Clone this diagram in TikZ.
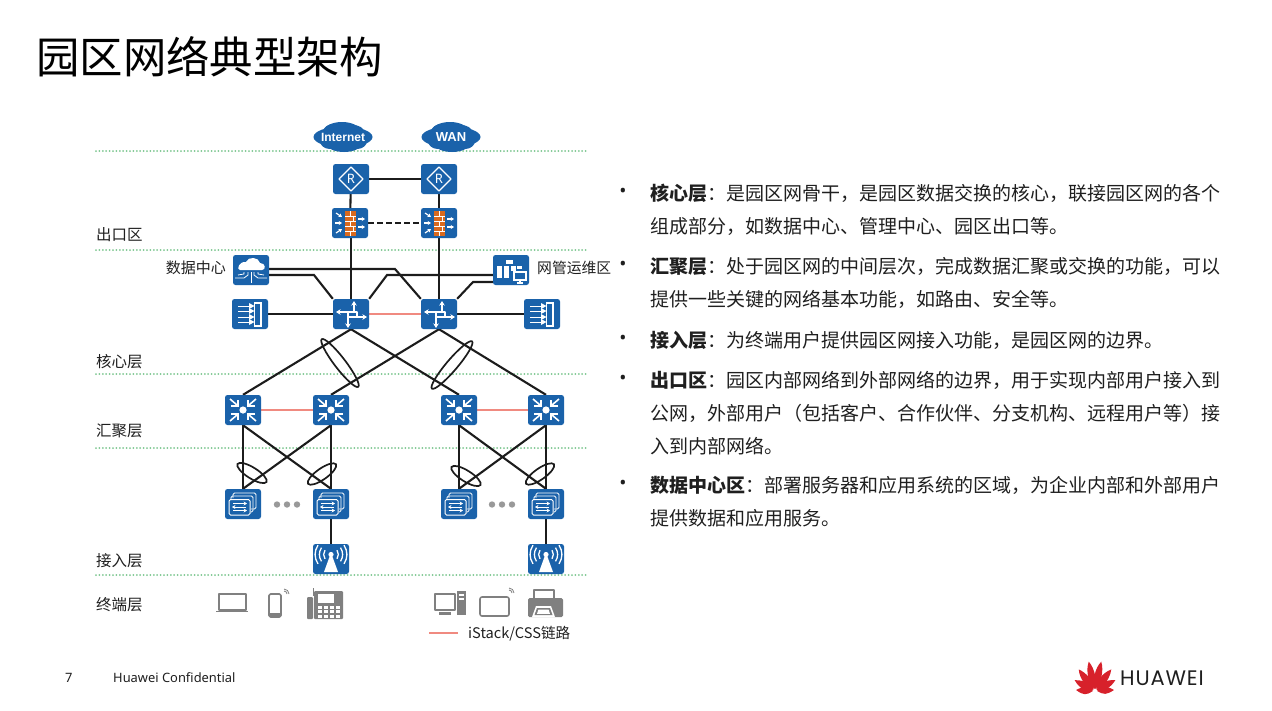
\documentclass[tikz,border=0pt]{standalone}
\usepackage{fontspec}
\setmainfont{Noto Sans CJK SC}
\newfontfamily\latinf{Noto Sans}
\newfontfamily\boldf{Liberation Sans}
\newfontfamily\logof[LetterSpace=4]{Poppins}
\usetikzlibrary{arrows.meta,shapes.geometric,backgrounds}
\definecolor{hblue}{HTML}{1A62AA}
\definecolor{dotg}{HTML}{7CC68F}
\definecolor{txt}{HTML}{1F1F1F}
\definecolor{lnk}{HTML}{1C1C1C}
\definecolor{pinkl}{HTML}{F08A80}
\definecolor{brick}{HTML}{D9691E}
\definecolor{term}{HTML}{808080}
\definecolor{logored}{HTML}{D7212B}
\tikzset{
  x=1pt,y=-1pt,
  dev/.style={fill=hblue,rounded corners=2.5,minimum width=36,minimum height=30,inner sep=0,draw=none},
  link/.style={draw=lnk,line width=2.1},
  stacklink/.style={draw=pinkl,line width=2.8},
  zone/.style={draw=dotg,line width=2,line cap=round,dash pattern=on 0pt off 3.4pt},
  lag/.style={ellipse,draw=lnk,line width=1.7,inner sep=0,fill=none},
  wl/.style={draw=white,line width=1.3,line cap=round,line join=round},
  wa/.style={draw=white,line width=1.5,-{Stealth[length=4.6,width=5.6]}},
  tl/.style={draw=term,line width=1.6,line join=round},
  cloudtext/.style={inner sep=0,text=white,font=\boldf\bfseries\fontsize{12}{12}\selectfont},
  lab/.style={anchor=west,inner sep=0,text=txt,font=\fontsize{15.5}{18}\selectfont},
  body/.style={anchor=west,inner sep=0,text=txt,font=\fontsize{19}{22}\selectfont},
  bul/.style={anchor=center,inner sep=0,text=txt,font=\latinf\fontsize{19}{22}\selectfont},
}
\newcommand\gCloud[1]{\begin{scope}[shift={(#1)}]
  \fill[hblue] (0,0) ellipse [x radius=29.5,y radius=10.5];
  \fill[hblue] (-1,-6) ellipse [x radius=18,y radius=9];
  \fill[hblue] (-9,-5) ellipse [x radius=11,y radius=8];
  \fill[hblue] (10,-5) ellipse [x radius=11,y radius=7];
  \fill[hblue] (1,6) ellipse [x radius=18,y radius=9];
  \fill[hblue] (-13,4) ellipse [x radius=10,y radius=8];
  \fill[hblue] (14,4) ellipse [x radius=10,y radius=8];
\end{scope}}
\newcommand\gRouter[1]{\begin{scope}[shift={(#1)}]
  \draw[wl] (0,-12)--(12,0)--(0,12)--(-12,0)--cycle;
  \node[text=white,inner sep=0,font=\latinf\fontsize{13}{13}\selectfont] (#1R) at (0,0) {R};
\end{scope}}
\newcommand\gFire[1]{\begin{scope}[shift={(#1)}]
  \fill[brick] (-5,-12) rectangle (6,13);
  \foreach \y in {-7,-2,3,8}{\draw[white,line width=.7] (-5,\y)--(6,\y);}
  \draw[white,line width=.5] (0,-12)--(0,-7) (3,-7)--(3,-2) (0,-2)--(0,3) (3,3)--(3,8) (0,8)--(0,13);
  \begin{scope}[wa/.append style={line width=1.2,-{Stealth[length=3.4,width=4.2]}}]
  \draw[wa] (-14,-10)--(-8,-6);
  \draw[wa] (-15,0)--(-8,0);
  \draw[wa] (-14,10)--(-8,6);
  \draw[wa] (8,-4)--(15,-4);
  \draw[wa] (8,4)--(15,4);
  \end{scope}
\end{scope}}
\newcommand\gCore[1]{\begin{scope}[shift={(#1)}]
  \draw[wa] (3,-1)--(3,-13);
  \draw[wa] (3,-2)--(-15,-2);
  \draw[wa] (-3,3)--(16,3);
  \draw[wa] (-3,-2)--(-3,14);
  \draw[wl] (3,-2)--(6,-2)--(6,3);
\end{scope}}
\newcommand\gAgg[1]{\begin{scope}[shift={(#1)}]
  \fill[white] (0,0) circle (3.6);
  \foreach \sx/\sy in {-1/-1,1/-1,-1/1,1/1}{
    \draw[white,line width=1.6] (\sx*13,\sy*11)--(\sx*6,\sy*5);
    \draw[white,line width=1.6,line join=miter] (\sx*12,\sy*4)--(\sx*5,\sy*4)--(\sx*5,\sy*10);
  }
\end{scope}}
\newcommand\gAcc[1]{\begin{scope}[shift={(#1)}]
  \draw[white,line width=.8,rounded corners=1.5] (-10,-6) -- (-10,-11) -- (13,-11) -- (13,5) -- (8,5);
  \draw[white,line width=.8,rounded corners=1.5] (-12,-4) -- (-12,-8) -- (10,-8) -- (10,8) -- (8,8);
  \draw[white,line width=1,rounded corners=1.5] (-14,-4.5) rectangle (7,11);
  \draw[white,line width=1,-{Stealth[length=3.4,width=4]}] (-10,-.5)--(4,-.5);
  \draw[white,line width=1,-{Stealth[length=3.4,width=4]}] (3,3)--(-11,3);
  \draw[white,line width=1,-{Stealth[length=3.4,width=4]}] (-10,6.5)--(4,6.5);
\end{scope}}
\newcommand\gAP[1]{\begin{scope}[shift={(#1)}]
  \fill[white] (-1.2,-3) -- (1.2,-3) -- (7,13) -- (-7,13) -- cycle;
  \fill[white] (0,-4.5) circle (2.6);
  \foreach \r in {6,9.5,13}{
    \draw[white,line width=1.3] (-\r,-4.5-\r*0.72) .. controls (-\r-\r*0.3,-4.5-\r*0.25) and (-\r-\r*0.3,-4.5+\r*0.25) .. (-\r,-4.5+\r*0.72);
    \draw[white,line width=1.3] (\r,-4.5-\r*0.72) .. controls (\r+\r*0.3,-4.5-\r*0.25) and (\r+\r*0.3,-4.5+\r*0.25) .. (\r,-4.5+\r*0.72);
  }
\end{scope}}
\newcommand\gSide[1]{\begin{scope}[shift={(#1)}]
  \draw[white,line width=1.5] (4.5,-11) rectangle (11,12);
  \foreach \a in {-8,-3,3,8}{
    \draw[white,line width=1] (-12,\a)--(0,\a);
    \fill[white] (-1,\a-3)--(4.5,\a)--(-1,\a+3)--cycle;
  }
\end{scope}}
\newcommand\gDC[1]{\begin{scope}[shift={(#1)}]
  \fill[white] (-11,0) -- (11,0) .. controls (15,0) and (15,-7) .. (9,-7) .. controls (8,-13) and (-3,-14) .. (-5,-8) .. controls (-12,-9) and (-15,0) .. (-11,0) -- cycle;
  \draw[white,line width=.8] (0,2)--(0,13);
  \draw[white,line width=.8] (-3,2)--(-3,5)--(-7,8)--(-16,8);
  \draw[white,line width=.8] (3,2)--(3,5)--(7,8)--(16,8);
  \draw[white,line width=.8] (-7,2)--(-7,4)--(-13,5);
  \draw[white,line width=.8] (7,2)--(7,4)--(13,5);
\end{scope}}
\newcommand\gNMS[1]{\begin{scope}[shift={(#1)}]
  \fill[white] (-14,-4) rectangle (-9,8);
  \fill[white] (-7,-4) rectangle (-2,8);
  \fill[white] (0,-4) rectangle (5,1);
  \fill[white] (-5,-10) rectangle (2,-6);
  \fill[white] (6,-4) rectangle (11,-1);
  \draw[white,line width=1.2,fill=hblue] (3,2) rectangle (15,10);
  \draw[white,line width=1.2] (9,10)--(9,13) (6,13)--(12,13);
\end{scope}}
\newcommand\petal[2]{\fill[logored,rotate around={#1:(1095,691)}] (1095,689) .. controls (1090,682) and (1090,#2+8) .. (1095,#2) .. controls (1099.5,#2+8) and (1099.5,682) .. (1095,689) -- cycle;}
\begin{document}
\begin{tikzpicture}
\useasboundingbox (0,0) rectangle (1272,710);
% title
\node[anchor=west,inner sep=0,text=black,font=\fontsize{43.4}{48}\selectfont] (title) at (36,56.5) {园区网络典型架构};
% clouds
\coordinate (ci) at (343,137);
\coordinate (cw) at (451,137);
\gCloud{ci}\gCloud{cw}
\node[cloudtext] (inet) at (ci) {Internet};
\node[cloudtext,font=\boldf\bfseries\fontsize{13}{13}\selectfont] (wan) at (cw) {WAN};
% devices
\node[dev] (r1) at (351,179) {};
\node[dev] (r2) at (439,179) {};
\node[dev] (f1) at (350,223) {};
\node[dev] (f2) at (439,223) {};
\node[dev] (dc) at (251,270) {};
\node[dev] (nms) at (511,270) {};
\node[dev] (c1) at (351,314) {};
\node[dev] (c2) at (439,314) {};
\node[dev] (s1) at (250,314) {};
\node[dev] (s2) at (542,314) {};
\node[dev] (a1) at (243,410) {};
\node[dev] (a2) at (331,410) {};
\node[dev] (a3) at (459,410) {};
\node[dev] (a4) at (546,410) {};
\node[dev] (e1) at (243,504) {};
\node[dev] (e2) at (331,504) {};
\node[dev] (e3) at (459,504) {};
\node[dev] (e4) at (546,504) {};
\node[dev] (p1) at (331,559) {};
\node[dev] (p2) at (546,559) {};
\gRouter{r1}\gRouter{r2}\gFire{f1}\gFire{f2}\gDC{dc}\gNMS{nms}
\gCore{c1}\gCore{c2}\gSide{s1}\gSide{s2}
\gAgg{a1}\gAgg{a2}\gAgg{a3}\gAgg{a4}
\gAcc{e1}\gAcc{e2}\gAcc{e3}\gAcc{e4}\gAP{p1}\gAP{p2}
% bend points
\coordinate (b1) at (395,269);
\coordinate (b2) at (314,275);
\coordinate (b3) at (387,275);
\coordinate (b4) at (473,282);
\coordinate (z1a) at (96,151); \coordinate (z1b) at (586,151);
\coordinate (z2a) at (96,250); \coordinate (z2b) at (586,250);
\coordinate (z3a) at (96,374); \coordinate (z3b) at (586,374);
\coordinate (z4a) at (96,448); \coordinate (z4b) at (586,448);
\coordinate (z5a) at (96,575); \coordinate (z5b) at (586,575);
\begin{scope}[on background layer]
\draw[zone] (z1a)--(z1b);
\draw[zone] (z2a)--(z2b);
\draw[zone] (z3a)--(z3b);
\draw[zone] (z4a)--(z4b);
\draw[zone] (z5a)--(z5b);
\draw[link] (r1)--(r2);
\draw[link] (r1)--(f1);
\draw[link] (r2)--(f2);
\draw[link,dash pattern=on 6pt off 3pt,line width=2.3] (f1)--(f2);
\draw[link] (f1.south -| c1)--(c1);
\draw[link] (f2)--(c2);
\draw[link] (dc.east |- b1)--(b1)--(c2.north west);
\draw[link] (dc.east |- b2)--(b2)--(c1.north west);
\draw[link] (nms.west |- b3)--(b3)--(c1.north east);
\draw[link] (nms.west |- b4)--(b4)--(c2.north east);
\draw[link] (s1)--(c1);
\draw[link] (c2)--(s2);
\draw[stacklink] (c1)--(c2);
\draw[link] (c1.south)--(a1.north);
\draw[link] (c1.south)--(a3.north);
\draw[link] (c2.south)--(a2.north);
\draw[link] (c2.south)--(a4.north);
\draw[stacklink] (a1)--(a2);
\draw[stacklink] (a3)--(a4);
\draw[link] (a1.south)--(e1.north);
\draw[link] (a1.south)--(e2.north);
\draw[link] (a2.south)--(e1.north);
\draw[link] (a2.south)--(e2.north);
\draw[link] (a3.south)--(e3.north);
\draw[link] (a3.south)--(e4.north);
\draw[link] (a4.south)--(e3.north);
\draw[link] (a4.south)--(e4.north);
\draw[link] (e2)--(p1);
\draw[link] (e4)--(p2);
\end{scope}
% lag ellipses
\node[lag,minimum width=60,minimum height=11,rotate=-52.5] (l1) at (340,363) {};
\node[lag,minimum width=62,minimum height=11,rotate=49.6] (l2) at (452,365) {};
\node[lag,minimum width=34,minimum height=11,rotate=-32] (l3) at (252,473) {};
\node[lag,minimum width=34,minimum height=11,rotate=35] (l4) at (322,474) {};
\node[lag,minimum width=34,minimum height=11,rotate=-32] (l5) at (466,476) {};
\node[lag,minimum width=34,minimum height=11,rotate=35] (l6) at (540,474) {};
% dots
\foreach \x in {277,287,297,492,502,512}{\fill[gray!80] (\x,504.5) circle (3.2);}
% left labels
\node[lab] (t1) at (96,234.5) {出口区};
\node[lab] (t2) at (96,361.5) {核心层};
\node[lab] (t3) at (96,430.5) {汇聚层};
\node[lab] (t4) at (96,560.5) {接入层};
\node[lab] (t5) at (96,604.5) {终端层};
\node[lab,anchor=east,font=\fontsize{15}{18}\selectfont] (t6) at (226,268) {数据中心};
\node[lab,font=\fontsize{14.8}{18}\selectfont] (t7) at (537,268) {网管运维区};
% terminals
\begin{scope}
\draw[tl] (219,594) rectangle (246,610);
\fill[term] (216,610.5) -- (248,610.5) -- (248,612) -- (216,612) -- cycle;
\draw[tl,rounded corners=1.5] (269,594) rectangle (281,617);
\fill[term] (269,613) rectangle (281,617);
\draw[term,line width=.8] (284,591) arc (-90:0:3) (284,589) arc (-90:0:5);
% IP phone
\fill[term,rounded corners=1] (307,597) rectangle (313,619);
\fill[term,rounded corners=1] (314,591) rectangle (343,619);
\draw[term,line width=1] (313,588)--(313,596);
\fill[white] (318,594) rectangle (334,603);
\fill[term] (336,594) rectangle (341,597);
\foreach \i in {0,1,2,3}{\foreach \j in {0,1,2}{\fill[white] (318+\i*6,606+\j*4.3) rectangle (322+\i*6,609+\j*4.3);}}
% PC
\draw[tl] (435,594) rectangle (455,610);
\fill[term] (439,612) rectangle (451,614.5);
\fill[term] (457,591) rectangle (466,615);
\fill[white] (459,594) rectangle (464,595.5);
\fill[white] (459,598) rectangle (464,599.5);
% tablet
\draw[tl,rounded corners=2] (480,597) rectangle (509,616);
\draw[term,line width=.8] (509,590) arc (-90:0:3) (509,588) arc (-90:0:5);
% printer
\draw[tl] (534,590) rectangle (554,600);
\fill[term,rounded corners=1.5] (528,598) rectangle (563,617);
\fill[white] (536,606) -- (551,606) -- (555,617) -- (532,617) -- cycle;
\fill[term] (537,608) -- (550,608) -- (552.5,615) -- (534.5,615) -- cycle;
\fill[white] (538.5,609.5) -- (548.5,609.5) -- (550,613.8) -- (537,613.8) -- cycle;
\end{scope}
% legend
\coordinate (lg1) at (429,633);
\coordinate (lg2) at (458,633);
\draw[stacklink] (lg1)--(lg2);
\node[lab,font=\fontsize{14.6}{18}\selectfont] (lgt) at (468,633.5) {iStack/CSS链路};
% bullets
\foreach \y/\n in {193/a,266/b,340/c,380/d,485/e}{\node[bul] (bu\n) at (623,\y) {•};}
\node[body] (x1) at (650,193) {\textbf{核心层}：是园区网骨干，是园区数据交换的核心，联接园区网的各个};
\node[body] (x2) at (650,226) {组成部分，如数据中心、管理中心、园区出口等。};
\node[body] (x3) at (650,266) {\textbf{汇聚层}：处于园区网的中间层次，完成数据汇聚或交换的功能，可以};
\node[body] (x4) at (650,299) {提供一些关键的网络基本功能，如路由、安全等。};
\node[body] (x5) at (650,340) {\textbf{接入层}：为终端用户提供园区网接入功能，是园区网的边界。};
\node[body] (x6) at (650,380) {\textbf{出口区}：园区内部网络到外部网络的边界，用于实现内部用户接入到};
\node[body] (x7) at (650,413) {公网，外部用户（包括客户、合作伙伴、分支机构、远程用户等）接};
\node[body] (x8) at (650,446) {入到内部网络。};
\node[body] (x9) at (650,485) {\textbf{数据中心区}：部署服务器和应用系统的区域，为企业内部和外部用户};
\node[body] (x10) at (650,518) {提供数据和应用服务。};
% footer
\node[lab,font=\latinf\fontsize{12.9}{14}\selectfont] (pg) at (65,678) {7};
\node[lab,font=\latinf\fontsize{12.9}{14}\selectfont] (conf) at (113,678) {Huawei Confidential};
% logo
\petal{-12}{661}\petal{12}{661}\petal{-37}{664}\petal{37}{664}\petal{-62}{668}\petal{62}{668}\petal{-87}{672}\petal{87}{672}
\node[anchor=west,inner sep=0,text=txt,font=\logof\fontsize{21}{22}\selectfont] (hw) at (1120,678) {HUAWEI};
\end{tikzpicture}
\end{document}
